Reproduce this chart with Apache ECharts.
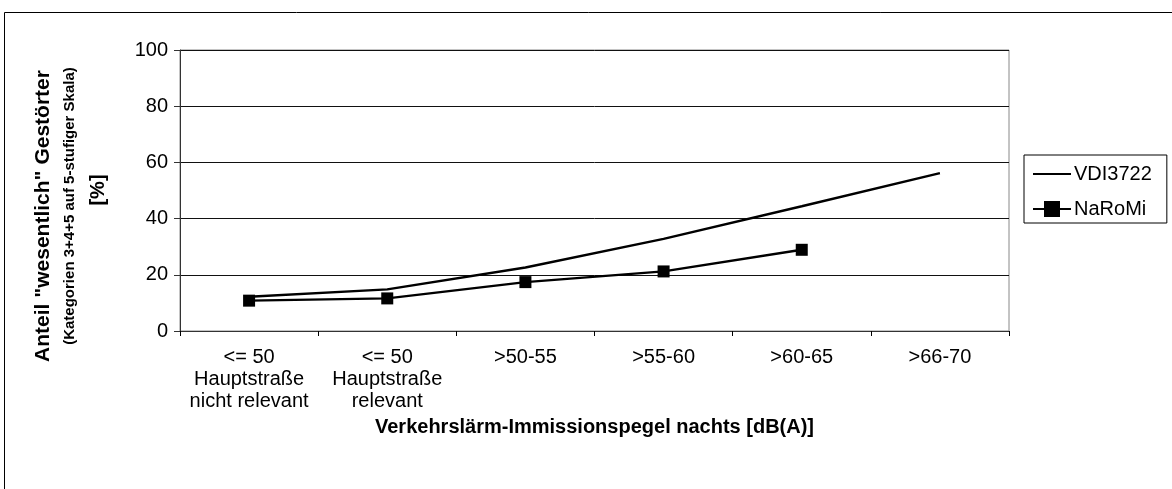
<!DOCTYPE html>
<html>
<head>
<meta charset="utf-8">
<script src="https://cdn.jsdelivr.net/npm/echarts@6/dist/echarts.min.js"></script>
<style>
html,body{margin:0;padding:0;background:#fff;}
#chart{width:1172px;height:489px;}
</style>
</head>
<body>
<div id="chart"></div>
<script>
const categories = [
  "<= 50\nHauptstraße\nnicht relevant",
  "<= 50\nHauptstraße\nrelevant",
  ">50-55",
  ">55-60",
  ">60-65",
  ">66-70"
];
const vdiValues = [12.2, 14.8, 22.6, 32.8, 44.4, 56.2];
const naromiValues = [10.8, 11.6, 17.4, 21.2, 28.9, null];
const yTicks = { min: 0, max: 100, interval: 20 };
const xTitle = "Verkehrslärm-Immissionspegel nachts [dB(A)]";
const yTitle1 = 'Anteil "wesentlich" Gestörter';
const yTitle2 = "(Kategorien 3+4+5 auf 5-stufiger Skala)";
const yTitle3 = "[%]";

const FONT = "Liberation Sans, Arial, sans-serif";
const chart = echarts.init(document.getElementById('chart'), null, {renderer: 'canvas'});
chart.setOption({
  backgroundColor: '#fff',
  animation: false,
  textStyle: { fontFamily: FONT, color: '#000' },
  grid: {
    left: 180, top: 50, right: 163, bottom: 158,
    show: true, borderColor: '#888', borderWidth: 1, backgroundColor: 'transparent'
  },
  legend: {
    orient: 'vertical',
    left: 1024, top: 155,
    padding: [9, 15, 4, 8],
    itemGap: 15,
    itemWidth: 38, itemHeight: 20,
    borderColor: '#000', borderWidth: 1,
    textStyle: { fontFamily: FONT, fontSize: 20, color: '#000', padding: [0,0,0,-2] },
    data: [
      { name: 'VDI3722', icon: 'path://M0,9 L38,9 L38,11.2 L0,11.2 Z' },
      { name: 'NaRoMi' }
    ]
  },
  xAxis: {
    type: 'category',
    data: categories,
    boundaryGap: true,
    axisLine: { show: true, lineStyle: { color: '#333', width: 1 } },
    axisTick: { show: true, length: 5, alignWithLabel: false, lineStyle: { color: '#000' } },
    axisLabel: { fontFamily: FONT, fontSize: 20, color: '#000', lineHeight: 22, margin: 15, interval: 0 },
    splitLine: { show: false },
    name: xTitle,
    nameLocation: 'middle',
    nameGap: 86,
    nameTextStyle: { fontFamily: FONT, fontSize: 20, fontWeight: 'bold', color: '#000' }
  },
  yAxis: {
    type: 'value',
    min: yTicks.min, max: yTicks.max, interval: yTicks.interval,
    axisLine: { show: true, lineStyle: { color: '#333', width: 1 } },
    axisTick: { show: true, length: 6, inside: false, lineStyle: { color: '#333' } },
    axisLabel: { fontFamily: FONT, fontSize: 20, color: '#000', margin: 12 },
    splitLine: { show: true, lineStyle: { color: '#111', width: 1 } }
  },
  series: [
    {
      name: 'VDI3722', type: 'line', data: vdiValues,
      symbol: 'none', showSymbol: false,
      lineStyle: { color: '#000', width: 2.4 }, itemStyle: { color: '#000' }
    },
    {
      name: 'NaRoMi', type: 'line', data: naromiValues,
      symbol: 'rect', symbolSize: 12,
      lineStyle: { color: '#000', width: 2.4 }, itemStyle: { color: '#000' }
    }
  ],
  graphic: [
    { type: 'rect', shape: { x: 4.5, y: 12.5, width: 1300, height: 600 },
      style: { fill: 'none', stroke: '#000', lineWidth: 1 }, silent: true },
    { type: 'text', x: 43, y: 216, rotation: Math.PI / 2,
      style: { text: yTitle1, font: 'bold 21px ' + FONT, fill: '#000', textAlign: 'center', textVerticalAlign: 'middle' } },
    { type: 'text', x: 70, y: 206, rotation: Math.PI / 2,
      style: { text: yTitle2, font: 'bold 15px ' + FONT, fill: '#000', textAlign: 'center', textVerticalAlign: 'middle' } },
    { type: 'text', x: 98, y: 190, rotation: Math.PI / 2,
      style: { text: yTitle3, font: 'bold 20px ' + FONT, fill: '#000', textAlign: 'center', textVerticalAlign: 'middle' } }
  ]
});
</script>
</body>
</html>
